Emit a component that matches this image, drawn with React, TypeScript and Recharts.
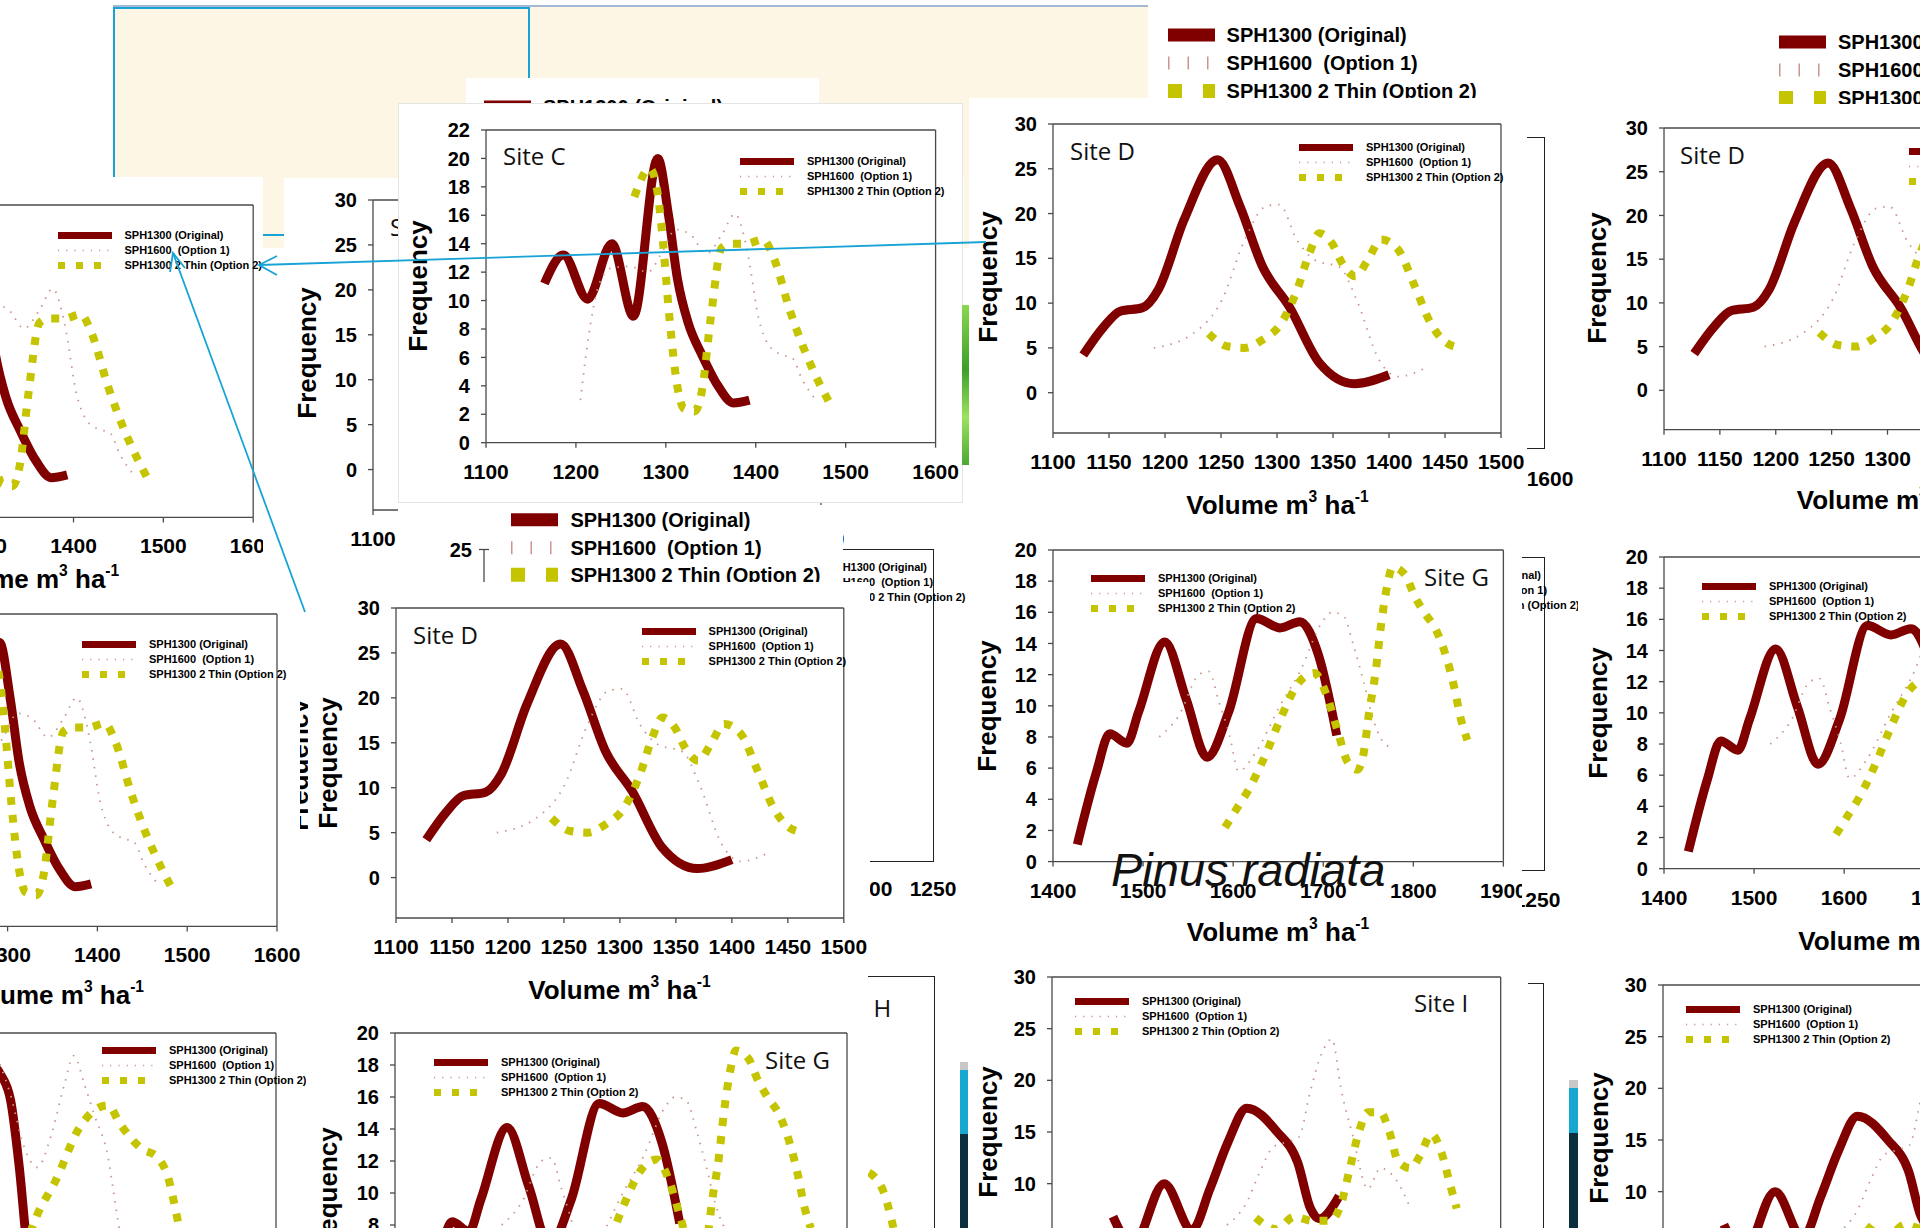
import React from 'react'
import { LineChart, Line, XAxis, YAxis, ReferenceLine } from 'recharts'

type Pt = [number, number]
type Rect = { x: number; y: number; w: number; h: number }
type XY = { x: number; y: number }

const ARIAL = '"Liberation Sans", Arial, Helvetica, sans-serif'
const CALIBRI = '"Open Sans", "Noto Sans", sans-serif'
const RED = '#800000'
const OLIVE = '#c4c400'
const PINK = '#c9958c'
const AXIS = '#4a4a4a'
const CYAN = '#17a3d6'

// axis ticks
const X_TICKS_C = [1100, 1200, 1300, 1400, 1500, 1600]
const X_TICKS_D = [1100, 1150, 1200, 1250, 1300, 1350, 1400, 1450, 1500]
const X_TICKS_G = [1400, 1500, 1600, 1700, 1800, 1900]
const X_TICKS_HI = [1200, 1300, 1400, 1500, 1600, 1700]
const Y_TICKS_22 = [0, 2, 4, 6, 8, 10, 12, 14, 16, 18, 20, 22]
const Y_TICKS_20 = [0, 2, 4, 6, 8, 10, 12, 14, 16, 18, 20]
const Y_TICKS_30 = [0, 5, 10, 15, 20, 25, 30]

const LEGEND_LABELS = ['SPH1300 (Original)', 'SPH1600  (Option 1)', 'SPH1300 2 Thin (Option 2)']

// frequency of stands by volume class (m3/ha), per site
const SITE_C_ORIGINAL: Pt[] = [[1165, 11.2], [1186, 13.2], [1213, 10.1], [1240, 14], [1264, 8.9], [1291, 20], [1303, 16], [1313, 11.5], [1325, 8.4], [1340, 6.2], [1358, 4], [1375, 2.8], [1393, 3]]
const SITE_C_OPTION1: Pt[] = [[1205, 3], [1213, 7], [1226, 11.2], [1240, 12.3], [1260, 12.4], [1280, 12], [1295, 13.3], [1311, 15], [1328, 14.6], [1345, 13.3], [1362, 14.6], [1377, 16.1], [1385, 15], [1392, 13], [1403, 8.8], [1414, 6.9], [1428, 6.2], [1440, 6], [1452, 4.4], [1467, 3]]
const SITE_C_OPTION2: Pt[] = [[1265, 17.3], [1282, 19.3], [1291, 17.5], [1297, 14], [1304, 8.8], [1313, 3.9], [1320, 2.4], [1332, 2.2], [1340, 3.6], [1350, 8.8], [1362, 13.7], [1372, 14], [1390, 14], [1408, 14.3], [1420, 13], [1438, 9.3], [1453, 6.7], [1466, 4.8], [1482, 2.8]]

const SITE_D_ORIGINAL: Pt[] = [[1127, 4.2], [1145, 7.3], [1160, 9.1], [1180, 9.5], [1194, 11.5], [1217, 19.3], [1247, 26], [1267, 20.8], [1287, 14.1], [1311, 9.6], [1338, 3.3], [1369, 1], [1400, 2]]
const SITE_D_OPTION1: Pt[] = [[1190, 5], [1225, 6.6], [1251, 10.4], [1271, 17], [1290, 20.8], [1302, 21], [1318, 17], [1334, 14.8], [1356, 14], [1371, 10.4], [1391, 3.7], [1408, 1.8], [1435, 2.9]]
const SITE_D_OPTION2: Pt[] = [[1239, 6.6], [1255, 5.2], [1271, 5], [1287, 5.9], [1304, 7.8], [1318, 11.5], [1329, 15.6], [1338, 17.8], [1349, 16.7], [1358, 14.5], [1370, 13], [1381, 14.8], [1393, 17.1], [1408, 16], [1423, 11.9], [1437, 7.8], [1448, 5.9], [1463, 5]]

const SITE_G_ORIGINAL: Pt[] = [[1427, 1.1], [1448, 5.7], [1463, 8.2], [1482, 7.6], [1495, 9.6], [1524, 14.1], [1548, 10.4], [1571, 6.7], [1595, 9.6], [1626, 15.6], [1652, 15], [1674, 15.4], [1695, 13.2], [1715, 8.1]]
const SITE_G_OPTION1: Pt[] = [[1518, 8], [1540, 9.4], [1562, 12], [1573, 12.2], [1584, 10.3], [1596, 8.1], [1606, 5.8], [1625, 7], [1652, 10], [1675, 12.3], [1698, 15.3], [1710, 16], [1722, 15.8], [1734, 13.8], [1745, 11.5], [1755, 9.2], [1763, 8], [1775, 7.3]]
const SITE_G_OPTION2: Pt[] = [[1591, 2.2], [1604, 3.4], [1617, 4.6], [1637, 7], [1652, 9.1], [1673, 11.5], [1690, 12.1], [1703, 10.8], [1716, 8.4], [1727, 6.4], [1738, 5.9], [1745, 7], [1751, 9.6], [1758, 12.1], [1764, 15.1], [1771, 17.7], [1777, 18.9], [1791, 18.4], [1801, 17.1], [1812, 16], [1825, 14.9], [1834, 13.6], [1845, 11.3], [1853, 9.1], [1860, 7.8]]

const SITE_I_ORIGINAL: Pt[] = [[1268, 6.8], [1290, 4], [1325, 10], [1356, 5.5], [1376, 9.5], [1396, 14], [1417, 17.3], [1451, 15], [1474, 12], [1488, 7.6], [1498, 6.6], [1520, 8.8]]
const SITE_I_OPTION1: Pt[] = [[1395, 6], [1417, 8.2], [1432, 11.2], [1446, 13.5], [1460, 14], [1475, 14.5], [1488, 19], [1500, 22.5], [1512, 24], [1522, 19.2], [1535, 14.7], [1552, 9.5], [1566, 11.5], [1584, 10.3], [1600, 7.5]]
const SITE_I_OPTION2: Pt[] = [[1427, 6.7], [1450, 5.6], [1470, 6.8], [1490, 6.4], [1510, 6.4], [1522, 8], [1532, 11.5], [1542, 15], [1552, 16.9], [1566, 16.9], [1576, 15], [1586, 12.1], [1600, 11.5], [1610, 12.7], [1623, 14.8], [1634, 13], [1644, 9.8], [1651, 7.6]]

const SITE_H_ORIGINAL: Pt[] = [[1250, 22], [1275, 27], [1290, 26], [1305, 23.5], [1318, 17], [1330, 9], [1345, 4]]
const SITE_H_OPTION1: Pt[] = [[1289, 27], [1305, 24], [1325, 19], [1345, 17], [1365, 20], [1385, 25], [1399, 27.8], [1415, 25], [1430, 22], [1450, 18], [1462, 13], [1472, 9]]
const SITE_H_OPTION2: Pt[] = [[1325, 9], [1344, 12.3], [1372, 15.7], [1408, 20.9], [1437, 22.8], [1450, 23], [1468, 21.2], [1500, 18.8], [1523, 18], [1538, 16.3], [1556, 11.2], [1570, 7]]

type Site = {
  name: string
  original: Pt[]
  option1: Pt[]
  option2: Pt[]
  xDomain: [number, number]
  xTicks: number[]
  yDomain: [number, number]
  yTicks: number[]
}

const SITE_C: Site = { name: 'Site C', original: SITE_C_ORIGINAL, option1: SITE_C_OPTION1, option2: SITE_C_OPTION2, xDomain: [1100, 1600], xTicks: X_TICKS_C, yDomain: [0, 22], yTicks: Y_TICKS_22 }
const SITE_D: Site = { name: 'Site D', original: SITE_D_ORIGINAL, option1: SITE_D_OPTION1, option2: SITE_D_OPTION2, xDomain: [1100, 1500], xTicks: X_TICKS_D, yDomain: [-4.5, 30], yTicks: Y_TICKS_30 }
const SITE_G: Site = { name: 'Site G', original: SITE_G_ORIGINAL, option1: SITE_G_OPTION1, option2: SITE_G_OPTION2, xDomain: [1400, 1900], xTicks: X_TICKS_G, yDomain: [0, 20], yTicks: Y_TICKS_20 }
const SITE_H: Site = { name: 'Site H', original: SITE_H_ORIGINAL, option1: SITE_H_OPTION1, option2: SITE_H_OPTION2, xDomain: [1200, 1700], xTicks: X_TICKS_HI, yDomain: [0, 30], yTicks: Y_TICKS_30 }
const SITE_I: Site = { name: 'Site I', original: SITE_I_ORIGINAL, option1: SITE_I_OPTION1, option2: SITE_I_OPTION2, xDomain: [1200, 1700], xTicks: X_TICKS_HI, yDomain: [0, 30], yTicks: Y_TICKS_30 }

const toRows = (pts: Pt[]) => pts.map(([x, y]) => ({ x, y }))

function Txt({ x, y, size, anchor = 'middle', children, style }: { x: number; y: number; size: number; anchor?: 'start' | 'middle' | 'end'; children: React.ReactNode; style?: React.CSSProperties }) {
  const tx = anchor === 'start' ? '0' : anchor === 'end' ? '-100%' : '-50%'
  return (
    <div style={{ position: 'absolute', left: x, top: y, transform: `translate(${tx},-50%)`, fontFamily: ARIAL, fontWeight: 700, fontSize: size, lineHeight: 1, whiteSpace: 'pre', color: '#000', ...style }}>
      {children}
    </div>
  )
}

function SeriesLegend({ x, y, big = false, gap }: { x: number; y: number; big?: boolean; gap?: number }) {
  const fs = big ? 20 : 11
  const rowH = gap ?? (big ? 28 : 15)
  const len = big ? 47 : 54
  const textAt = big ? 59 : 67
  const strokes = big
    ? [{ c: RED, w: 13, d: undefined }, { c: PINK, w: 13, d: '1.5 18' }, { c: OLIVE, w: 14, d: '14 21' }]
    : [{ c: RED, w: 7, d: undefined }, { c: PINK, w: 1.6, d: '1.2 7' }, { c: OLIVE, w: 7, d: '7 11' }]
  return (
    <>
      {LEGEND_LABELS.map((t, i) => (
        <div key={t} style={{ position: 'absolute', left: x, top: y + i * rowH - rowH / 2, height: rowH, display: 'flex', alignItems: 'center', whiteSpace: 'pre', fontFamily: ARIAL, fontWeight: 700, fontSize: fs, color: '#000', lineHeight: 1 }}>
          <svg width={textAt} height={rowH} style={{ display: 'block', flex: 'none' }}>
            <line x1={0} x2={len} y1={rowH / 2} y2={rowH / 2} stroke={strokes[i].c} strokeWidth={strokes[i].w} strokeDasharray={strokes[i].d} />
          </svg>
          <span>{t}</span>
        </div>
      ))}
    </>
  )
}

const SUP: React.CSSProperties = { fontSize: '0.6em', verticalAlign: '0.75em', lineHeight: 0 }

const PAD_L = 72
const PAD_T = 16
const PAD_R = 36
const PAD_B = 54

function Panel({ site, box, plot, border, legend, label, freq, volume, frame = true }: {
  site: Site; box: Rect; plot: Rect; border?: React.CSSProperties
  legend?: XY; label?: XY; freq?: XY; volume?: XY; frame?: boolean
}) {
  const tickX = { fontSize: 21, fontWeight: 700, fill: '#000', fontFamily: ARIAL }
  const tickY = { ...tickX, fontSize: 20 }
  return (
    <div style={{ position: 'absolute', left: box.x, top: box.y, width: box.w, height: box.h, overflow: 'hidden', background: '#fff', ...border }}>
      <div style={{ position: 'absolute', left: plot.x - box.x - PAD_L, top: plot.y - box.y - PAD_T }}>
        <LineChart width={plot.w + PAD_L + PAD_R} height={plot.h + PAD_T + PAD_B} margin={{ top: PAD_T, right: PAD_R, bottom: 0, left: 0 }}>
          <XAxis type="number" dataKey="x" domain={site.xDomain} ticks={site.xTicks} interval={0} allowDataOverflow height={PAD_B} tickSize={5} tickMargin={16} tick={tickX} stroke={AXIS} strokeWidth={1.3} />
          <YAxis type="number" dataKey="y" domain={site.yDomain} ticks={site.yTicks} interval={0} allowDataOverflow width={PAD_L} tickSize={5} tickMargin={11} tick={tickY} stroke={AXIS} strokeWidth={1.3} />
          {frame && <ReferenceLine y={site.yDomain[1]} stroke={AXIS} strokeWidth={1.3} />}
          {frame && <ReferenceLine x={site.xDomain[1]} stroke={AXIS} strokeWidth={1.3} />}
          <Line data={toRows(site.original)} dataKey="y" type="monotone" stroke={RED} strokeWidth={9} dot={false} isAnimationActive={false} />
          <Line data={toRows(site.option1)} dataKey="y" type="monotone" stroke={PINK} strokeWidth={1.8} strokeDasharray="1.5 7" dot={false} isAnimationActive={false} />
          <Line data={toRows(site.option2)} dataKey="y" type="monotone" stroke={OLIVE} strokeWidth={8} strokeDasharray="8 10" dot={false} isAnimationActive={false} />
        </LineChart>
      </div>
      {legend && <SeriesLegend x={legend.x - box.x} y={legend.y - box.y} />}
      {label && (
        <div style={{ position: 'absolute', left: label.x - box.x, top: label.y - box.y, fontFamily: CALIBRI, fontSize: 24, lineHeight: 1, color: '#111', whiteSpace: 'nowrap' }}>
          {site.name}
        </div>
      )}
      {freq && (
        <div style={{ position: 'absolute', left: freq.x - box.x, top: freq.y - box.y, transform: 'translate(-50%,-50%) rotate(-90deg)', fontFamily: ARIAL, fontWeight: 700, fontSize: 26, lineHeight: 1, whiteSpace: 'nowrap' }}>
          Frequency
        </div>
      )}
      {volume && (
        <Txt x={volume.x - box.x} y={volume.y - box.y} size={26}>
          Volume m<sup style={SUP}>3</sup> ha<sup style={SUP}>-1</sup>
        </Txt>
      )}
    </div>
  )
}

const bracket = (x: number, y: number, w: number, h: number, bottom = true): React.CSSProperties => ({
  position: 'absolute', left: x, top: y, width: w, height: h,
  borderTop: '1.5px solid #222', borderRight: '1.5px solid #222', borderBottom: bottom ? '1.5px solid #222' : 'none',
})

export default function App() {
  return (
    <div style={{ position: 'absolute', left: 0, top: 0, width: 1920, height: 1228, overflow: 'hidden', background: '#fff' }}>
      {/* slide backdrop */}
      <div style={{ position: 'absolute', left: 113, top: 5, width: 1035, height: 241, background: '#fdf6e4', borderTop: '2px solid #a3b9d4' }} />
      <div style={{ position: 'absolute', left: 113, top: 7, width: 417, height: 229, border: `2px solid ${CYAN}`, boxSizing: 'border-box' }} />

      <SeriesLegend x={1167.6} y={35} big />
      <SeriesLegend x={1779} y={42} big />

      <div style={{ position: 'absolute', left: 466, top: 78, width: 353, height: 26, background: '#fff', overflow: 'hidden' }}>
        <SeriesLegend x={18} y={29} big />
      </div>

      <Panel site={SITE_D} box={{ x: 284, y: 178, w: 680, h: 404 }} plot={{ x: 373, y: 200, w: 448, h: 310 }}
        legend={{ x: 619, y: 223 }} label={{ x: 390, y: 215 }} freq={{ x: 307, y: 353 }} />

      <Panel site={SITE_C} box={{ x: 399, y: 104, w: 563, h: 398 }} plot={{ x: 486, y: 130.3, w: 449.6, h: 312.7 }}
        border={{ outline: '1px solid #e4e4e4' }}
        legend={{ x: 740, y: 161 }} label={{ x: 503, y: 144 }} freq={{ x: 418, y: 286 }} />

      <div style={{ position: 'absolute', left: 962, top: 305, width: 8, height: 160, background: 'linear-gradient(#8bd84f, #3c9f2a 40%, #9be35c 70%, #4aa832)' }} />

      <Panel site={SITE_C} box={{ x: 0, y: 177, w: 263, h: 415 }} plot={{ x: -196.5, y: 205.3, w: 449.2, h: 312.4 }}
        legend={{ x: 57.5, y: 235.5 }} volume={{ x: 28, y: 579 }} />

      <div style={bracket(1400, 137, 144, 310)} />
      <Txt x={1550} y={478} size={21}>1600</Txt>

      <Panel site={SITE_D} box={{ x: 969, y: 98, w: 558, h: 429 }} plot={{ x: 1053, y: 124.3, w: 448, h: 309 }}
        legend={{ x: 1299, y: 147 }} label={{ x: 1070, y: 139 }} freq={{ x: 987.6, y: 277 }} volume={{ x: 1277.5, y: 505 }} />

      <Panel site={SITE_D} box={{ x: 1575, y: 104, w: 345, h: 436 }} plot={{ x: 1664.3, y: 128.3, w: 447, h: 301.7 }}
        legend={{ x: 1908.7, y: 151 }} label={{ x: 1680, y: 143 }} freq={{ x: 1597, y: 278 }} volume={{ x: 1888, y: 500 }} />

      {/* panel behind the middle row */}
      <div style={bracket(700, 549, 233, 311)} />
      <SeriesLegend x={761} y={567} />
      <Txt x={869} y={888} size={21}>1200</Txt>
      <Txt x={933} y={888} size={21}>1250</Txt>

      <div style={{ position: 'absolute', left: 398, top: 505, width: 445, height: 77, background: '#fff', overflow: 'hidden' }}>
        <SeriesLegend x={113.4} y={15} big gap={27.5} />
        <Txt x={74} y={45} size={20} anchor="end">25</Txt>
        <svg style={{ position: 'absolute', left: 80, top: 40 }} width={14} height={40}>
          <line x1={1} x2={11} y1={4.5} y2={4.5} stroke={AXIS} strokeWidth={1.3} />
          <line x1={6} x2={6} y1={4} y2={40} stroke={AXIS} strokeWidth={1.3} />
        </svg>
      </div>

      <div style={{ position: 'absolute', left: 299, top: 765, transform: 'translate(-50%,-50%) rotate(-90deg)', fontFamily: ARIAL, fontWeight: 700, fontSize: 26, lineHeight: 1 }}>
        Frequency
      </div>

      <Panel site={SITE_D} box={{ x: 308, y: 582, w: 562, h: 428 }} plot={{ x: 395.6, y: 608.3, w: 447.8, h: 310 }}
        legend={{ x: 641.6, y: 631 }} label={{ x: 413, y: 623 }} freq={{ x: 328, y: 763 }} volume={{ x: 619.5, y: 990 }} />

      <Panel site={SITE_C} box={{ x: 0, y: 588, w: 300, h: 422 }} plot={{ x: -171.7, y: 614.3, w: 449, h: 312.4 }}
        legend={{ x: 82, y: 644.5 }} volume={{ x: 52.8, y: 995 }} />

      <div style={bracket(1400, 557, 144, 312)} />
      <SeriesLegend x={1375} y={575} />
      <Txt x={1537} y={899} size={21}>1250</Txt>

      <Panel site={SITE_G} box={{ x: 973, y: 540, w: 549, h: 410 }} plot={{ x: 1053, y: 549.7, w: 450.4, h: 311.6 }}
        legend={{ x: 1091, y: 578.3 }} label={{ x: 1424, y: 565 }} freq={{ x: 986.5, y: 705.7 }} volume={{ x: 1278, y: 932 }} />

      <Panel site={SITE_G} box={{ x: 1578, y: 540, w: 342, h: 425 }} plot={{ x: 1664.3, y: 557.3, w: 450.4, h: 311.7 }}
        legend={{ x: 1702, y: 586 }} freq={{ x: 1597.5, y: 713 }} volume={{ x: 1889.5, y: 940.7 }} />

      <Panel site={SITE_H} box={{ x: 868, y: 976, w: 67, h: 252 }} plot={{ x: 627, y: 1050, w: 380, h: 310 }}
        border={{ borderTop: '1.5px solid #222', borderRight: '1.5px solid #222', boxSizing: 'border-box' }}
        label={{ x: 826, y: 995 }} frame={false} />

      <Panel site={SITE_H} box={{ x: 0, y: 1010, w: 306, h: 218 }} plot={{ x: -60, y: 1032.7, w: 336, h: 310 }}
        legend={{ x: 102, y: 1050 }} />

      <Panel site={SITE_G} box={{ x: 306, y: 1010, w: 562, h: 218 }} plot={{ x: 395, y: 1032.7, w: 452, h: 320 }}
        legend={{ x: 434, y: 1062 }} label={{ x: 765, y: 1048 }} freq={{ x: 328, y: 1193 }} />

      <div style={{ position: 'absolute', left: 960, top: 1062, width: 8, height: 166, background: 'linear-gradient(#c8c8c8 0 8px, #17a8d2 8px 72px, #0c2f3d 72px)' }} />

      <div style={bracket(1400, 983, 143, 300, false)} />

      <Panel site={SITE_I} box={{ x: 975, y: 965, w: 553, h: 263 }} plot={{ x: 1052, y: 976.7, w: 448.7, h: 310 }}
        legend={{ x: 1075, y: 1001 }} label={{ x: 1414, y: 991 }} freq={{ x: 988.3, y: 1132 }} />

      <Panel site={SITE_I} box={{ x: 1580, y: 972, w: 340, h: 256 }} plot={{ x: 1663, y: 985, w: 448, h: 310 }}
        legend={{ x: 1686, y: 1009 }} freq={{ x: 1599, y: 1138 }} />

      <div style={{ position: 'absolute', left: 1569, top: 1080, width: 9, height: 148, background: 'linear-gradient(#c8c8c8 0 8px, #17a8d2 8px 53px, #0c2f3d 53px)' }} />

      <div style={{ position: 'absolute', left: 1111, top: 846, fontFamily: ARIAL, fontStyle: 'italic', fontSize: 47, lineHeight: 1, color: '#111', whiteSpace: 'nowrap' }}>
        Pinus radiata
      </div>

      {/* callout arrows */}
      <svg style={{ position: 'absolute', left: 0, top: 0, pointerEvents: 'none' }} width={1920} height={1228}>
        <g stroke={CYAN} strokeWidth={1.8} fill="none">
          <line x1={986} y1={242} x2={259} y2={265} />
          <polyline points="277,256 259,265 277,275" />
          <line x1={305} y1={612} x2={173} y2={253} />
          <polyline points="170,272 173,253 185,268" />
        </g>
      </svg>
    </div>
  )
}
